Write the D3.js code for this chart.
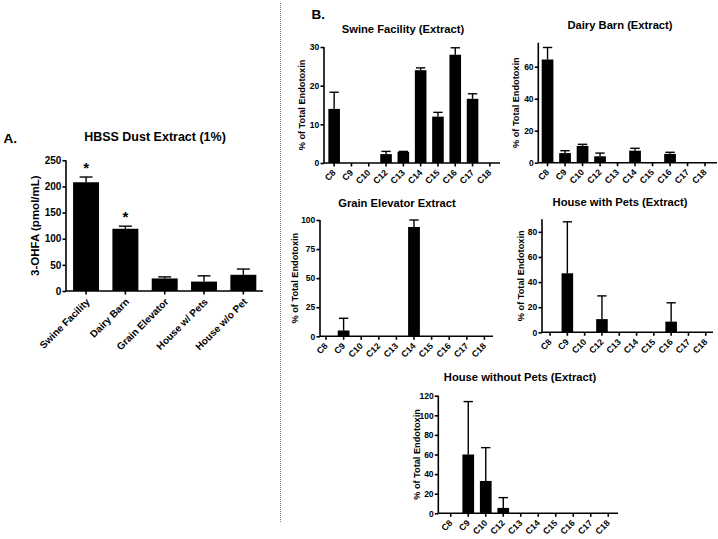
<!DOCTYPE html>
<html><head><meta charset="utf-8">
<script src="https://cdn.jsdelivr.net/npm/d3@7"></script>
<style>
body{margin:0;background:#fff;}
svg{font-family:"Liberation Sans",Arial,sans-serif;font-weight:bold;}
</style></head>
<body>
<script>
// ---- Data ----
const sitesA = ["Swine Facility","Dairy Barn","Grain Elevator","House w/ Pets","House w/o Pet"];
const valuesA = [208,119,24,18,31];
const errA = [10,5,3,11,11];
const starA = [true,true,false,false,false];
const ticksA = [0,50,100,150,200,250];

const chains = ["C8","C9","C10","C12","C13","C14","C15","C16","C17","C18"];
const swineVals = [14,0,0,2.3,2.9,24,12,28,16.6,0];
const swineErr  = [4.3,0,0,0.7,0.1,0.6,1.1,1.8,1.3,0];
const dairyVals = [64.5,6,10.5,4,0,7.5,0,5.5,0,0];
const dairyErr  = [7.5,1.5,1,2,0,1.5,0,1,0,0];
const grainVals = [0,5,0,0,0,94,0,0,0,0];
const grainErr  = [0,10.5,0,0,0,6,0,0,0,0];
const petsVals  = [0,47,0,10.5,0,0,0,8.5,0,0];
const petsErr   = [0,41,0,18.5,0,0,0,15,0,0];
const noPetsVals= [0,60,33,5.5,0,0,0,0,0,0];
const noPetsErr = [0,54,34,10.5,0,0,0,0,0,0];

const svg = d3.select("body").append("svg").attr("width",718).attr("height",539);

function drawPanel(o){
  const g = svg.append("g");
  const x = d3.scaleBand().domain(o.cats).range(o.xr).paddingInner(o.pad).paddingOuter(o.pad/2);
  const y = d3.scaleLinear().domain(o.yd).range(o.yr);
  g.selectAll("rect.bar").data(o.cats).join("rect")
    .attr("x",d=>x(d)).attr("width",x.bandwidth())
    .attr("y",(d,i)=>y(o.vals[i])).attr("height",(d,i)=>y(0)-y(o.vals[i]))
    .attr("fill","#000");
  const cap = x.bandwidth()*o.cap;
  o.cats.forEach((c,i)=>{
    if(!o.errs[i]) return;
    const cx = x(c)+x.bandwidth()/2;
    const top = y(o.vals[i]+o.errs[i]);
    g.append("line").attr("x1",cx).attr("x2",cx).attr("y1",y(o.vals[i])).attr("y2",top)
      .attr("stroke","#000").attr("stroke-width",1.4);
    g.append("line").attr("x1",cx-cap).attr("x2",cx+cap).attr("y1",top).attr("y2",top)
      .attr("stroke","#000").attr("stroke-width",1.4);
  });
  const ya = g.append("g").attr("transform",`translate(${o.yx},0)`)
    .call(d3.axisLeft(y).tickValues(o.ticks).tickSize(o.ts).tickSizeOuter(0).tickPadding(1.2));
  ya.select(".domain").attr("d",`M0,${o.yr[0]}V${o.yr[1]}`);
  const xa = g.append("g").attr("transform",`translate(0,${o.yr[0]})`)
    .call(d3.axisBottom(x).tickSize(o.ts).tickSizeOuter(0));
  xa.select(".domain").attr("d",`M${o.yx},0H${o.xend}`);
  [ya,xa].forEach(a=>{
    a.selectAll(".domain,.tick line").attr("stroke","#000").attr("stroke-width",1.6);
    a.selectAll("text").attr("font-weight","bold").attr("fill","#000")
      .attr("font-family","Liberation Sans, Arial, sans-serif");
  });
  ya.selectAll("text").attr("font-size",o.fs);
  xa.selectAll("text").attr("font-size",o.xfs).attr("text-anchor","end").attr("x",0).attr("y",0).attr("dy","0.35em")
    .attr("transform",`translate(${o.lxo},${o.lyo}) rotate(-45)`);
  g.append("text").attr("x",o.tx).attr("y",o.ty).attr("text-anchor","middle")
    .attr("font-size",o.tfs).text(o.title);
  g.append("text").attr("transform",`translate(${o.lx},${(o.yr[0]+o.yr[1])/2}) rotate(-90)`)
    .attr("text-anchor","middle").attr("dy","0.35em").attr("font-size",o.lfs).text(o.ylabel);
  return {x,y,g};
}

// Panel A
const pA = drawPanel({cats:sitesA, vals:valuesA, errs:errA, xr:[66.4,263], pad:0.34, cap:0.25, yd:[0,250], yr:[291,160.3],
  ticks:ticksA, yx:66, xend:263, ts:3.5, fs:10, xfs:10, lxo:2, lyo:9, title:"HBSS Dust Extract (1%)", tx:155, ty:141, tfs:12.5,
  ylabel:"3-OHFA (pmol/mL)", lx:35, lfs:11.5});
pA.g.selectAll(".star").data(sitesA.filter((d,i)=>starA[i])).join("text")
  .attr("x",d=>pA.x(d)+pA.x.bandwidth()/2)
  .attr("y",d=>pA.y(valuesA[sitesA.indexOf(d)]+errA[sitesA.indexOf(d)])-4)
  .attr("text-anchor","middle").attr("font-size",15).text("*");
svg.append("text").attr("x",3.5).attr("y",142.5).attr("font-size",13.5).text("A.");

// separator
svg.append("line").attr("x1",280.5).attr("x2",280.5).attr("y1",3).attr("y2",523)
  .attr("stroke","#777").attr("stroke-width",1).attr("stroke-dasharray","1,1");
svg.append("text").attr("x",311.5).attr("y",18.5).attr("font-size",13.5).text("B.");

const common = {cats:chains, pad:0.33, cap:0.4, ts:3.5, fs:8.5, xfs:8.8, lxo:0, lyo:8, tfs:11.2, lfs:9.2, ylabel:"% of Total Endotoxin"};
drawPanel(Object.assign({}, common, {vals:swineVals, errs:swineErr, xr:[325.5,498.5], yd:[0,30], yr:[163,47],
  ticks:[0,10,20,30], yx:324, xend:500, title:"Swine Facility (Extract)", tx:403, ty:32.5, lx:301.5}));
drawPanel(Object.assign({}, common, {vals:dairyVals, errs:dairyErr, xr:[538.8,713.8], yd:[0,75], yr:[162.7,42.7],
  ticks:[0,20,40,60], yx:538.3, xend:717, title:"Dairy Barn (Extract)", tx:620, ty:28.5, lx:516}));
drawPanel(Object.assign({}, common, {vals:grainVals, errs:grainErr, xr:[317.2,493.2], yd:[0,100], yr:[336.3,220],
  ticks:[0,25,50,75,100], yx:320, xend:493, title:"Grain Elevator Extract", tx:397, ty:206.5, lx:295}));
drawPanel(Object.assign({}, common, {vals:petsVals, errs:petsErr, xr:[541.4,714.4], yd:[0,90], yr:[332.3,219.3],
  ticks:[0,20,40,60,80], yx:542, xend:713, title:"House with Pets (Extract)", tx:620, ty:206, lx:520.5}));
drawPanel(Object.assign({}, common, {vals:noPetsVals, errs:noPetsErr, xr:[442,617], yd:[0,120], yr:[513.3,395.7],
  ticks:[0,20,40,60,80,100,120], yx:438.3, xend:618, title:"House without Pets (Extract)", tx:520, ty:381, lx:417}));
</script>
</body></html>
